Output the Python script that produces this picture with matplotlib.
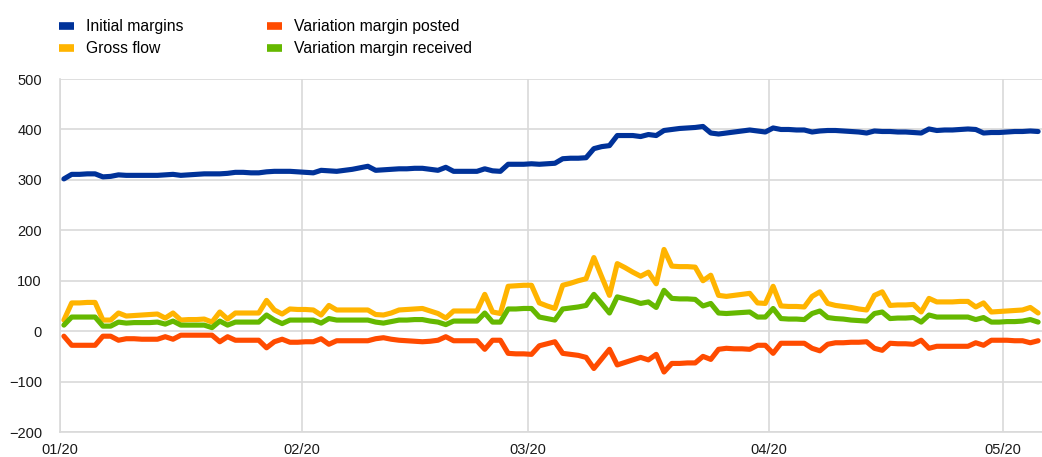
import matplotlib
matplotlib.use("Agg")
import matplotlib.dates as mdates
import matplotlib.pyplot as plt
from matplotlib.lines import Line2D
import pandas as pd

# Daily observations, 1 Jan 2020 - 5 May 2020 (EUR billions)
dates = pd.date_range("2020-01-01", "2020-05-05", freq="D")

initial_margins = [
    302, 311, 311, 312, 312, 306, 307, 310, 309, 309,
    309, 309, 309, 310, 311, 309, 310, 311, 312, 312,
    312, 313, 315, 315, 314, 314, 316, 317, 317, 317,
    316, 315, 314, 319, 318, 317, 319, 321, 324, 327,
    319, 320, 321, 322, 322, 323, 323, 321, 319, 325,
    317, 317, 317, 317, 322, 318, 317, 331, 331, 331,
    332, 331, 332, 333, 342, 343, 343, 344, 362, 366,
    368, 388, 388, 388, 386, 390, 388, 398, 400, 402,
    403, 404, 406, 393, 391, 393, 395, 397, 399, 397,
    395, 403, 400, 400, 399, 399, 395, 397, 398, 398,
    397, 396, 395, 393, 397, 396, 396, 395, 395, 394,
    393, 401, 398, 399, 399, 400, 401, 400, 393, 394,
    394, 395, 396, 396, 397, 396,
]

gross_flow = [
    22, 56, 56, 57, 57, 22, 22, 36, 30, 31,
    32, 33, 34, 26, 36, 22, 23, 23, 24, 18,
    38, 24, 36, 36, 36, 36, 61, 42, 34, 44,
    43, 43, 42, 32, 51, 42, 42, 42, 42, 42,
    33, 32, 36, 42, 43, 44, 45, 40, 35, 26,
    40, 40, 40, 40, 73, 38, 35, 89, 90, 91,
    91, 56, 50, 45, 91, 95, 100, 104, 146, 108,
    71, 134, 126, 117, 109, 117, 94, 162, 129, 128,
    128, 127, 100, 111, 71, 69, 71, 73, 75, 56,
    55, 89, 50, 49, 49, 48, 69, 78, 55, 51,
    49, 47, 44, 42, 71, 78, 51, 52, 52, 53,
    38, 65, 58, 58, 58, 59, 59, 48, 56, 38,
    39, 40, 41, 42, 47, 36,
]

vm_posted = [
    -10, -28, -28, -28, -28, -10, -10, -18, -15, -15,
    -16, -16, -16, -11, -16, -8, -8, -8, -8, -8,
    -21, -11, -18, -18, -18, -18, -33, -21, -16, -22,
    -22, -21, -21, -15, -26, -19, -19, -19, -19, -19,
    -15, -13, -16, -18, -19, -20, -21, -20, -18, -11,
    -19, -19, -19, -19, -36, -18, -18, -44, -45, -45,
    -46, -29, -25, -21, -44, -46, -48, -52, -74, -55,
    -36, -67, -62, -57, -52, -57, -46, -81, -64, -64,
    -63, -63, -50, -56, -36, -34, -35, -35, -36, -28,
    -28, -44, -24, -24, -24, -24, -34, -39, -26, -23,
    -23, -22, -22, -21, -34, -38, -24, -25, -25, -26,
    -18, -34, -30, -30, -30, -30, -30, -23, -28, -18,
    -18, -18, -19, -19, -23, -19,
]

vm_received = [
    12, 28, 28, 28, 28, 10, 10, 18, 16, 17,
    17, 17, 18, 14, 20, 12, 12, 12, 12, 7,
    20, 12, 18, 18, 18, 18, 32, 22, 15, 22,
    22, 22, 22, 16, 25, 22, 22, 22, 22, 22,
    18, 16, 19, 22, 22, 23, 23, 20, 18, 13,
    20, 20, 20, 20, 36, 18, 18, 44, 44, 45,
    45, 28, 25, 22, 44, 46, 48, 51, 73, 55,
    36, 68, 64, 60, 55, 58, 47, 81, 65, 64,
    64, 63, 50, 55, 36, 35, 36, 37, 38, 28,
    28, 45, 25, 24, 24, 23, 35, 40, 27, 25,
    24, 22, 21, 20, 35, 38, 25, 26, 26, 27,
    18, 32, 28, 28, 28, 28, 28, 23, 27, 18,
    18, 19, 19, 20, 23, 18,
]

series_labels = ["Initial margins", "Gross flow",
                 "Variation margin posted", "Variation margin received"]
series_colors = ["#003299", "#FFB400", "#FF4B00", "#65B800"]


def main():
    plt.rcParams['font.family'] = ['Liberation Sans', 'DejaVu Sans']
    fig = plt.figure(figsize=(10.42, 4.57), dpi=100)
    ax = fig.add_axes([0.0576, 0.0547, 0.9424, 0.7723])

    # points sit in the middle of each day cell
    x = dates + pd.Timedelta(hours=12)
    all_series = [initial_margins, gross_flow, vm_posted, vm_received]
    for values, color in zip(all_series, series_colors):
        ax.plot(x, values, color=color, lw=3.7, solid_joinstyle="round",
                solid_capstyle="round", zorder=3)

    ax.set_ylim(-200, 500)
    ax.set_yticks(range(-200, 501, 100))
    ax.set_xlim(pd.Timestamp("2020-01-01"), pd.Timestamp("2020-05-06"))
    ax.xaxis.set_major_locator(mdates.MonthLocator())
    ax.xaxis.set_major_formatter(mdates.DateFormatter("%m/%y"))

    ax.grid(True, color="#d9d9d9", lw=1.2)
    ax.set_axisbelow(True)
    for side in ["top", "right"]:
        ax.spines[side].set_visible(False)
    for side in ["left", "bottom"]:
        ax.spines[side].set_color("#d9d9d9")
        ax.spines[side].set_linewidth(1.2)
    ax.tick_params(length=0, labelsize=10.5, colors="#1a1a1a")
    ax.tick_params(axis="y", pad=13)
    ax.tick_params(axis="x", pad=8)

    handles = [Line2D([], [], color=c, lw=5.5, solid_capstyle="butt")
               for c in series_colors]
    fig.legend(handles, series_labels, ncol=2, loc="upper left",
               bbox_to_anchor=(0.046, 0.982), frameon=False, fontsize=11.3,
               handlelength=0.96, handletextpad=0.76, columnspacing=5.3,
               labelspacing=0.46, borderaxespad=0.3)

    fig.savefig("out.png", dpi=100)


if __name__ == "__main__":
    main()
